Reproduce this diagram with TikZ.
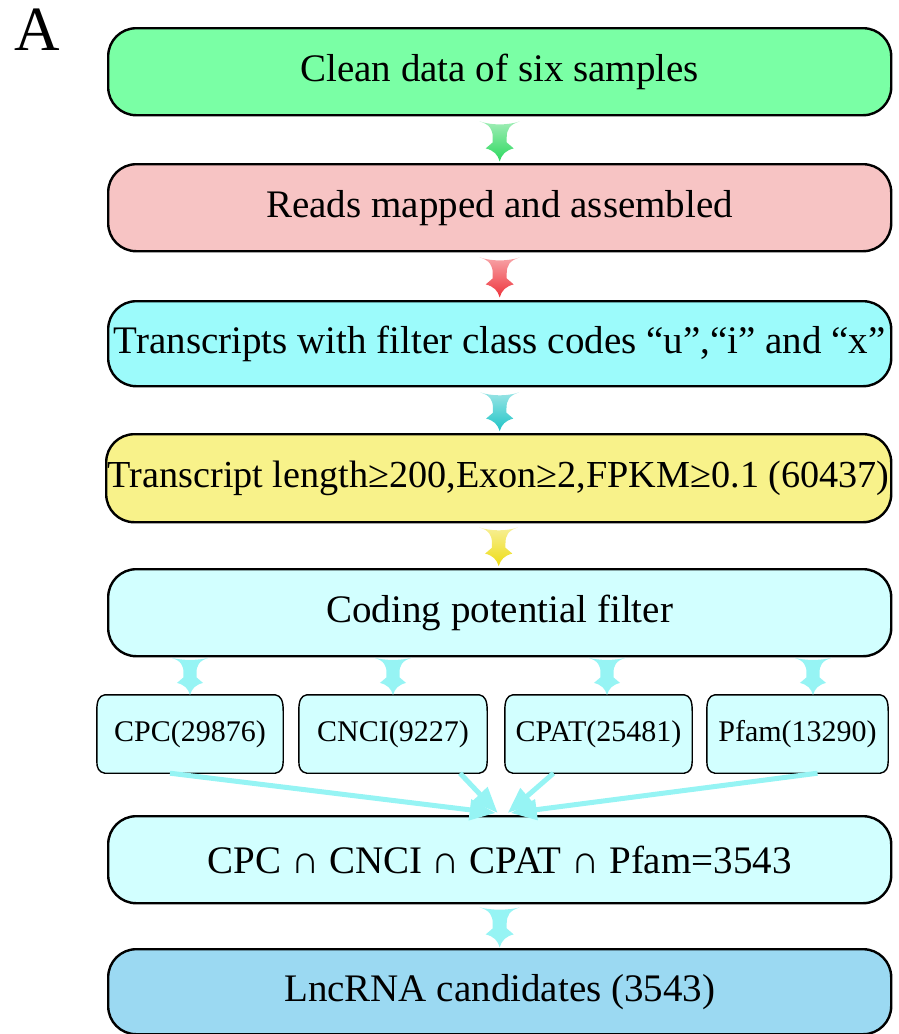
\documentclass[tikz,border=0pt]{standalone}
\usepackage{fontspec}
\setmainfont{Liberation Serif}
\usetikzlibrary{arrows.meta,calc,backgrounds}

\definecolor{fillgreen}{HTML}{7AFFA5}
\definecolor{fillpink}{HTML}{F7C4C4}
\definecolor{fillcyan}{HTML}{9CFBFB}
\definecolor{fillyellow}{HTML}{F8F28A}
\definecolor{filllight}{HTML}{D2FFFF}
\definecolor{fillblue}{HTML}{9BD9F2}
\definecolor{arrgreen}{HTML}{2CD85E}
\definecolor{arrred}{HTML}{EE343C}
\definecolor{arrteal}{HTML}{1EC4C6}
\definecolor{arryellow}{HTML}{EEDC14}
\definecolor{arrlight}{HTML}{96F4F4}

\tikzset{
  stage/.style={draw=black, line width=2.4pt, rounded corners=28pt,
    minimum width=783pt, minimum height=87pt, inner sep=0pt,
    anchor=north west, font=\fontsize{39}{39}\selectfont},
  tool/.style={minimum height=78pt, inner sep=0pt,
    font=\fontsize{30}{30}\selectfont},
  toolframe/.style={draw=black, line width=1.4pt, fill=filllight},
  merge/.style={draw=arrlight, line width=5pt,
    -{Triangle[length=26pt,width=20pt]}},
  pics/flowarrow/.style={code={
    \shade[top color=#1!45!white, middle color=#1, bottom color=#1]
      (-20,0) .. controls (-10,3) and (-7,8) .. (-7,16) -- (-7,21)
      -- (-14,27) .. controls (-6,29) and (-2,33) .. (0,40)
      .. controls (2,33) and (6,29) .. (14,27) -- (7,21) -- (7,16)
      .. controls (7,8) and (10,3) .. (20,0)
      .. controls (8,4) and (-8,4) .. cycle;
  }},
  pics/solidarrow/.style={code={
    \fill[#1]
      (-20,0) .. controls (-10,3) and (-7,8) .. (-7,16) -- (-7,21)
      -- (-14,27) .. controls (-6,29) and (-2,33) .. (0,40)
      .. controls (2,33) and (6,29) .. (14,27) -- (7,21) -- (7,16)
      .. controls (7,8) and (10,3) .. (20,0)
      .. controls (8,3) and (-8,3) .. cycle;
  }}
}

\begin{document}
\begin{tikzpicture}[x=1pt, y=-1pt]
  \useasboundingbox (0,0) rectangle (898,1034);

  \node[font=\fontsize{63}{63}\selectfont, anchor=base west] (panel) at (11,50) {A};

  % main pipeline stages
  \node[stage, fill=fillgreen]  (b1) at (107,27)  {Clean data of six samples};
  \node[stage, fill=fillpink]   (b2) at (107,163) {Reads mapped and assembled};
  \node[stage, fill=fillcyan, minimum height=85pt] (b3) at (107,300)
    {Transcripts with filter class codes “u”,“i” and “x”};
  \node[stage, fill=fillyellow, minimum width=785pt, minimum height=88pt,
    font=\fontsize{38.2}{38.2}\selectfont] (b4) at (105,433)
    {Transcript length≥200,Exon≥2,FPKM≥0.1 (60437)};
  \node[stage, fill=filllight]  (b5) at (107,568) {Coding potential filter};
  \node[stage, fill=filllight]  (b6) at (107,815) {CPC ∩ CNCI ∩ CPAT ∩ Pfam=3543};
  \node[stage, fill=fillblue, minimum height=85pt] (b7) at (107,948) {LncRNA candidates (3543)};

  % the four coding-potential tools
  \node[tool, minimum width=186pt] (s1) at (190,734)   {CPC(29876)};
  \node[tool, minimum width=188pt] (s2) at (393,734)   {CNCI(9227)};
  \node[tool, minimum width=187pt] (s3) at (598.5,734) {CPAT(25481)};
  \node[tool, minimum width=181pt] (s4) at (797.5,734) {Pfam(13290)};

  % barrel-sided frames behind the tool labels
  \begin{scope}[on background layer]
    \foreach \n in {s1,s2,s3,s4}{
      \draw[toolframe]
        ($(\n.north west)+(8,0)$) -- ($(\n.north east)+(-8,0)$)
        .. controls ($(\n.north east)+(-2,1)$) and ($(\n.north east)+(0,6)$)
        .. ($(\n.north east)+(0,16)$) -- ($(\n.south east)+(0,-12)$)
        .. controls ($(\n.south east)+(0,-5)$) and ($(\n.south east)+(-2,-1)$)
        .. ($(\n.south east)+(-8,0)$) -- ($(\n.south west)+(8,0)$)
        .. controls ($(\n.south west)+(2,-1)$) and ($(\n.south west)+(0,-5)$)
        .. ($(\n.south west)+(0,-12)$) -- ($(\n.north west)+(0,16)$)
        .. controls ($(\n.north west)+(0,6)$) and ($(\n.north west)+(2,1)$)
        .. cycle;
    }
  \end{scope}

  % arrows between stages
  \pic at ($(b1.south)+(0,5)$)  {flowarrow=arrgreen};
  \pic at ($(b2.south)+(0,5)$)  {flowarrow=arrred};
  \pic[scale=0.97] at ($(b3.south)+(0,5)$)  {flowarrow=arrteal};
  \pic[scale=0.97] at ($(b4.south)+(0,4)$)  {flowarrow=arryellow};
  \pic at ($(b6.south)+(0,3)$)  {solidarrow=arrlight};

  % arrows from the filter stage to each tool
  \pic[scale=0.93] at ($(s1.north)+(0,-37)$) {solidarrow=arrlight};
  \pic[scale=0.93] at ($(s2.north)+(0,-37)$) {solidarrow=arrlight};
  \pic[scale=0.93] at ($(s3.north)+(8.5,-37)$) {solidarrow=arrlight};
  \pic[scale=0.93] at ($(s4.north)+(15.5,-37)$) {solidarrow=arrlight};

  % tool results merging into the intersection
  \draw[merge] ($(s1.south)+(-20,0)$) -- ($(b6.north)+(-4,-2)$);
  \draw[merge] ($(s2.south)+(67,0)$)  -- ($(b6.north)+(-2,-2)$);
  \draw[merge] ($(s3.south)+(-45,0)$) -- ($(b6.north)+(8,-2)$);
  \draw[merge] ($(s4.south)+(20,0)$)  -- ($(b6.north)+(11,-2)$);
\end{tikzpicture}
\end{document}
